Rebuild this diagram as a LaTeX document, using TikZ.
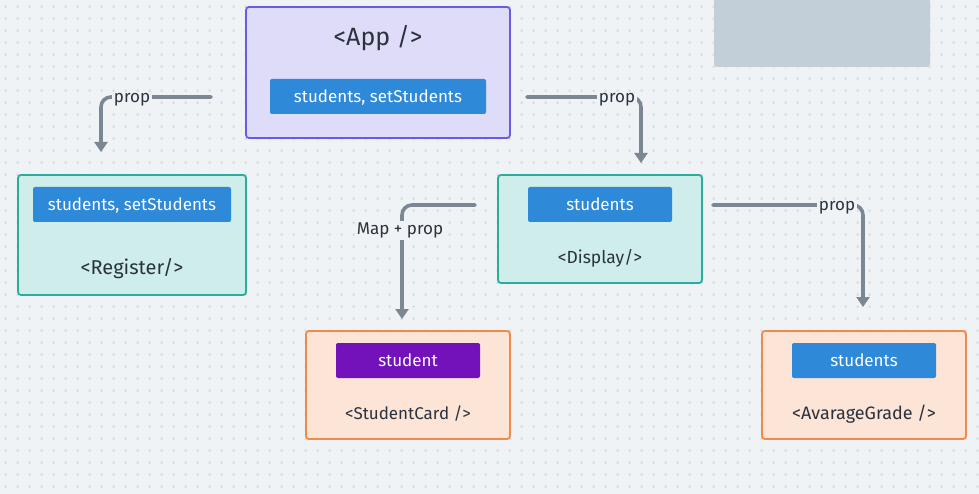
\documentclass[tikz,border=0pt]{standalone}
\usepackage{fontspec}
\setmainfont{Fira Sans}
\usetikzlibrary{arrows.meta}

\definecolor{canvas}{HTML}{EFF3F6}
\definecolor{dotcol}{HTML}{D0D7DE}
\definecolor{ink}{HTML}{2A333D}
\definecolor{appfill}{HTML}{DFDCF9}
\definecolor{appline}{HTML}{6A5BE6}
\definecolor{tealfill}{HTML}{CFEDEA}
\definecolor{tealline}{HTML}{2AAE9C}
\definecolor{orfill}{HTML}{FCE4D6}
\definecolor{orline}{HTML}{EF8B47}
\definecolor{btnblue}{HTML}{2E89D8}
\definecolor{btnpurple}{HTML}{7312BB}
\definecolor{conncol}{HTML}{7B8894}
\definecolor{stickyfill}{HTML}{C3CFD8}

\tikzset{
  comp/.style={draw, line width=1.8pt, rounded corners=3pt, inner sep=0pt},
  appcomp/.style={comp, draw=appline, fill=appfill},
  tealcomp/.style={comp, draw=tealline, fill=tealfill},
  orcomp/.style={comp, draw=orline, fill=orfill},
  btn/.style={fill=btnblue, text=white, rounded corners=2pt, minimum height=35pt,
    inner sep=0pt, text height=12pt, text depth=0pt, font=\fontsize{17}{20}\selectfont},
  compname/.style={text=ink, inner sep=0pt, font=\fontsize{17}{20}\selectfont},
  conn/.style={draw=conncol, line width=3.6pt, rounded corners=10pt, line cap=round,
    -{Triangle[width=13pt,length=10pt]}},
  lbl/.style={fill=canvas, text=ink, inner sep=1.5pt, font=\fontsize{17}{20}\selectfont},
}

\begin{document}
\begin{tikzpicture}[x=1pt,y=-1pt]
  \useasboundingbox (0,0) rectangle (979,494);
  \fill[canvas] (0,0) rectangle (979,494);

  % dot grid
  \fill[dotcol] \foreach \i in {0,...,81} {
      \foreach \j in {0,...,40} { (4.7+12*\i,5.7+12*\j) rectangle ++(2,2) } };

  % sticky note
  \fill[stickyfill, rounded corners=3pt] (714,-6) rectangle (930,67);

  % App
  \node[appcomp, minimum width=264pt, minimum height=131pt] (app) at (378,72.5) {};
  \node[compname, font=\fontsize{25}{28}\selectfont] (appname) at (378,38) {<App />};
  \node[btn, minimum width=216pt] (appstate) at (378,96.5) {students, setStudents};

  % Register
  \node[tealcomp, minimum width=228pt, minimum height=120pt] (reg) at (132,235) {};
  \node[btn, minimum width=198pt] (regstate) at (132,204.5) {students, setStudents};
  \node[compname, font=\fontsize{20}{23}\selectfont] (regname) at (132,269) {<Register/>};

  % Display
  \node[tealcomp, minimum width=204pt, minimum height=108pt] (disp) at (600,229) {};
  \node[btn, minimum width=144pt] (dispstate) at (600,204.5) {students};
  \node[compname, font=\fontsize{17.5}{20}\selectfont] (dispname) at (600,258) {<Display/>};

  % StudentCard
  \node[orcomp, minimum width=204pt, minimum height=108pt] (card) at (408,385) {};
  \node[btn, fill=btnpurple, minimum width=144pt] (cardstate) at (408,360.5) {student};
  \node[compname] (cardname) at (408,414) {<StudentCard />};

  % AvarageGrade
  \node[orcomp, minimum width=204pt, minimum height=108pt] (avg) at (864,385) {};
  \node[btn, minimum width=144pt] (avgstate) at (864,360.5) {students};
  \node[compname, font=\fontsize{18}{21}\selectfont] (avgname) at (864,414) {<AvarageGrade />};

  % connector ends
  \coordinate (toRegS) at (211,97);
  \coordinate (toRegE) at (101,152);
  \coordinate (toDispS) at (527,97);
  \coordinate (toDispE) at (641,163);
  \coordinate (toCardS) at (475,205);
  \coordinate (toCardE) at (402,319);
  \coordinate (toAvgS) at (713,205);
  \coordinate (toAvgE) at (863,307);

  \draw[conn] (toRegS) -| (toRegE);
  \draw[conn] (toDispS) -| (toDispE);
  \draw[conn] (toCardS) -| (toCardE);
  \draw[conn] (toAvgS) -| (toAvgE);

  \node[lbl] (lblReg) at (132,99.5) {prop};
  \node[lbl] (lblDisp) at (617,99.5) {prop};
  \node[lbl] (lblCard) at (400,230.5) {Map + prop};
  \node[lbl] (lblAvg) at (837,207.5) {prop};
\end{tikzpicture}
\end{document}
